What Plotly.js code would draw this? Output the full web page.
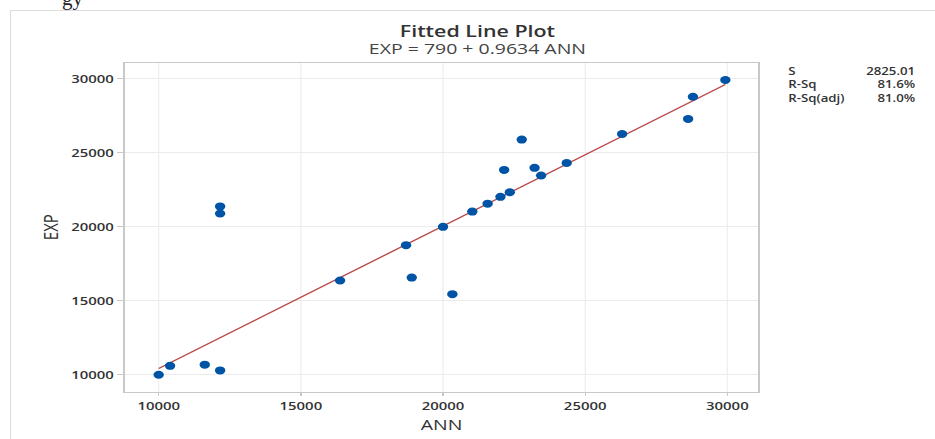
<!DOCTYPE html>
<html>
<head>
<meta charset="utf-8">
<script src="https://cdn.plot.ly/plotly-3.0.1.min.js"></script>
<style>
  html, body { margin: 0; padding: 0; background: #fff; overflow: hidden; width: 935px; height: 439px; }
  #chart { width: 720px; height: 439px; position: absolute; left: 0; top: 0;
           transform: scaleX(1.298611); transform-origin: 0 0; }
  #frame { position: absolute; left: 10px; top: 10px; width: 1000px; height: 500px;
           border-left: 1px solid #dcdcdc; border-top: 1px solid #dcdcdc; pointer-events: none; }
  #frag { position: absolute; left: 62px; top: -14px; font-family: "Liberation Serif", serif;
          font-size: 21px; color: #222; }
</style>
</head>
<body>
<div id="frame"></div>
<div id="chart"></div>
<div id="frag">gy</div>
<script>
const ann = [10000, 10400, 11620, 12160, 12160, 12160, 16380, 18700, 18900, 20000, 20330, 21030,
             21570, 22020, 22150, 22350, 22770, 23220, 23450, 24350, 26300, 28620, 28790, 29930];
const exp = [10000, 10600, 10680, 10290, 21380, 20900, 16370, 18760, 16570, 20000, 15450, 21030,
             21570, 22030, 23850, 22340, 25900, 23990, 23470, 24320, 26280, 27300, 28800, 29930];
const intercept = 790;
const slope = 0.9634;
const xTicks = [10000, 15000, 20000, 25000, 30000];
const yTicks = [10000, 15000, 20000, 25000, 30000];
const statLabels = ["S", "R-Sq", "R-Sq(adj)"];
const statValues = ["2825.01", "81.6%", "81.0%"];

const xMin = Math.min(...ann), xMax = Math.max(...ann);
const fitX = [xMin, xMax];
const fitY = fitX.map(v => intercept + slope * v);

const font = "Open Sans, Noto Sans, sans-serif";
const S = 935 / 720;           // horizontal stretch applied by CSS
const L = 125, R = 759, T = 63, B = 392.3;   // plot box in final page pixels
const PW = R - L, PH = B - T;
const px = v => (v - L) / PW;  // page x -> paper x
const py = v => (B - v) / PH;  // page y -> paper y

const traces = [
  { x: fitX, y: fitY, mode: "lines", type: "scatter",
    line: { color: "#b94a48", width: 1.3 }, hoverinfo: "skip", showlegend: false },
  { x: ann, y: exp, mode: "markers", type: "scatter",
    marker: { color: "#0054a6", size: 8 }, showlegend: false }
];

const titleText = '<span style="font-size:16.5px;font-weight:600;fill:#333">Fitted Line Plot</span><br>' +
                  '<span style="font-size:15px">EXP = 790 + 0.9634 ANN</span>';

const annotations = [
  { text: titleText, xref: "paper", yref: "paper", x: px(478), y: py(38), align: "center",
    xanchor: "center", yanchor: "middle", showarrow: false, borderpad: 0,
    font: { family: font, size: 13, color: "#444" } },
  { text: "ANN", xref: "paper", yref: "paper", x: px(442), y: py(424), height: 15,
    xanchor: "center", yanchor: "middle", showarrow: false, borderpad: 0,
    font: { family: font, size: 15, color: "#333" } },
  { text: "EXP", xref: "paper", yref: "paper", x: px(50), y: py(227), textangle: -90,
    xanchor: "center", yanchor: "middle", showarrow: false,
    font: { family: font, size: 15, color: "#333" } },
  { text: statLabels.join("<br>"), xref: "paper", yref: "paper", x: px(787), y: py(84.5),
    xanchor: "left", yanchor: "middle", align: "left", showarrow: false, borderpad: 0,
    font: { family: font, size: 10.2, color: "#333", weight: 600 } },
  { text: statValues.join("<br>"), xref: "paper", yref: "paper", x: px(917), y: py(84.5),
    xanchor: "right", yanchor: "middle", align: "right", showarrow: false, borderpad: 0,
    font: { family: font, size: 10.2, color: "#333", weight: 600 } }
];

const layout = {
  width: 720, height: 439,
  margin: { l: L / S, r: (935 - R) / S, t: T, b: 439 - B },
  paper_bgcolor: "rgba(0,0,0,0)", plot_bgcolor: "#fff",
  showlegend: false,
  xaxis: {
    range: [8803, 31092], tickvals: xTicks, ticktext: xTicks.map(String),
    showgrid: true, gridcolor: "#ebebeb", gridwidth: 0.8, zeroline: false,
    showline: true, linecolor: "#c8c8c8", mirror: true, linewidth: 1,
    ticks: "outside", ticklen: 3, tickcolor: "#c8c8c8",
    tickfont: { family: font, size: 11.5, color: "#333", weight: 600 }
  },
  yaxis: {
    range: [8831, 31081], tickvals: yTicks, ticktext: yTicks.map(String),
    showgrid: true, gridcolor: "#ebebeb", gridwidth: 1, zeroline: false,
    showline: true, linecolor: "#c8c8c8", mirror: true, linewidth: 1,
    ticks: "outside", ticklen: 5, tickcolor: "#c8c8c8",
    tickfont: { family: font, size: 11.5, color: "#333", weight: 600 }
  },
  annotations: annotations
};

Plotly.newPlot("chart", traces, layout, { displayModeBar: false, staticPlot: true });
</script>
</body>
</html>
